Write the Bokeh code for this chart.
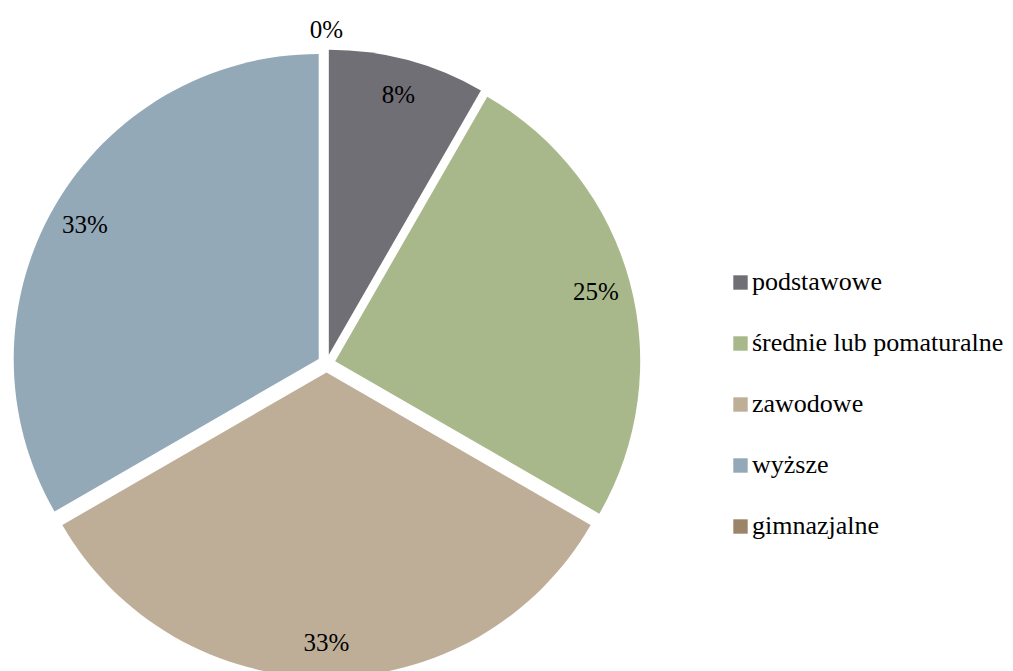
import math
from bokeh.plotting import figure
from bokeh.models import ColumnDataSource, Range1d, Legend, LegendItem
from bokeh.core.properties import value
from bokeh.embed import file_html
from bokeh.resources import INLINE

categories = ["podstawowe", "średnie lub pomaturalne", "zawodowe", "wyższe", "gimnazjalne"]
shares = [8.3, 25.0, 33.3, 33.3, 0.0]
labels = ["8%", "25%", "33%", "33%", "0%"]
colors = ["#706f75", "#a8b88b", "#beae98", "#93a9b8", "#9b8468"]

W, H = 1013, 671
CX, CY, R, EXPLODE = 326, 308, 305, 9
FONT = "Liberation Serif, Times New Roman, serif"

total = sum(shares)
xs, ys, starts, ends, lx, ly, radii = [], [], [], [], [], [], []
acc = 0.0
for v in shares:
    a0 = acc / total * 2 * math.pi
    acc += v
    a1 = acc / total * 2 * math.pi
    mid = (a0 + a1) / 2
    cx = CX + EXPLODE * math.sin(mid)
    cy = CY + EXPLODE * math.cos(mid)
    xs.append(cx)
    ys.append(cy)
    starts.append(math.pi / 2 - a1)
    ends.append(math.pi / 2 - a0)
    radii.append(R if v > 0 else 0)
    rl = R * 0.885 if v > 0 else R + 20
    lx.append(cx + rl * math.sin(mid))
    ly.append(cy + rl * math.cos(mid))

src = ColumnDataSource(dict(x=xs, y=ys, start=starts, end=ends, color=colors, r=radii,
                            cat=categories, lx=lx, ly=ly, lab=labels))

p = figure(width=W, height=H, output_backend="svg", toolbar_location=None,
           x_range=Range1d(0, W), y_range=Range1d(0, H), min_border=0,
           outline_line_color=None)
p.axis.visible = False
p.grid.visible = False

r = p.wedge(x="x", y="y", radius="r", start_angle="start", end_angle="end",
            direction="anticlock", fill_color="color", line_color=None, source=src)

p.text(x="lx", y="ly", text="lab", source=src, text_align="center",
       text_baseline="middle", text_font=value(FONT), text_font_size="25px",
       text_color="#000000")

legend = Legend(
    items=[LegendItem(label=c, renderers=[r], index=i) for i, c in enumerate(categories)],
    location=(731, 130), glyph_width=18, glyph_height=18, label_height=18,
    spacing=31, padding=0, margin=0, border_line_alpha=0, background_fill_alpha=0,
    label_text_font=FONT, label_text_font_size="26px", label_standoff=3,
    label_text_color="#000000")
p.add_layout(legend)

open("out.html", "w").write(file_html(p, INLINE))
